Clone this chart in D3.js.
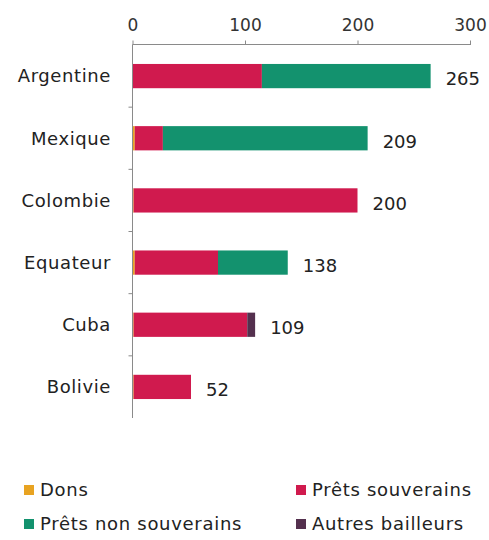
<!DOCTYPE html>
<html><head><meta charset="utf-8">
<script src="https://cdn.jsdelivr.net/npm/d3@7"></script>
<style>body{margin:0;background:#fff;} text{font-family:"DejaVu Sans",sans-serif;}</style>
</head><body><svg id="c" width="489" height="540"></svg>
<script>
const categories = ["Argentine","Mexique","Colombie","Equateur","Cuba","Bolivie"];
const seriesNames = ["Dons","Prêts souverains","Prêts non souverains","Autres bailleurs"];
const dons = [0, 2, 1, 2, 1, 1];
const pretsSouverains = [115, 25, 199, 74, 101, 51];
const pretsNonSouverains = [150, 182, 0, 62, 0, 0];
const autresBailleurs = [0, 0, 0, 0, 7, 0];
const totals = [265, 209, 200, 138, 109, 52];
const xTicks = [0, 100, 200, 300];
const colors = ["#e8a321", "#d01a4e", "#13926e", "#54304e"];

const svg = d3.select("#c");
const x = d3.scaleLinear().domain([0, 300]).range([132.5, 470]);
const y = d3.scaleBand().domain(categories).range([45, 418]).paddingInner(0.61).paddingOuter(0.305);

const rows = categories.map((c, i) => ({cat: c, "Dons": dons[i], "Prêts souverains": pretsSouverains[i],
  "Prêts non souverains": pretsNonSouverains[i], "Autres bailleurs": autresBailleurs[i]}));
const stacked = d3.stack().keys(seriesNames)(rows);

stacked.forEach((s, si) => {
  svg.append("g").selectAll("rect").data(s).join("rect")
    .attr("x", d => x(d[0])).attr("width", d => Math.max(0, x(d[1]) - x(d[0])))
    .attr("y", d => y(d.data.cat)).attr("height", y.bandwidth())
    .attr("fill", colors[si]);
});

// x axis on top
const xa = svg.append("g").attr("transform", "translate(0,44.5)")
  .call(d3.axisTop(x).tickValues(xTicks).tickSize(4).tickPadding(10));
xa.selectAll("text").attr("font-size", 17).attr("fill", "#333").attr("font-family", "DejaVu Sans");
xa.select(".domain").attr("stroke", "#8a8a8a").attr("d", "M" + x(0) + ",0H" + (x(300)+1));
xa.selectAll(".tick line").attr("stroke", "#8a8a8a");

// y axis
const ya = svg.append("g").attr("transform", "translate(132.5,0)");
ya.append("line").attr("x1", 0).attr("x2", 0).attr("y1", 44.5).attr("y2", 418).attr("stroke", "#8a8a8a");
const step = y.step();
categories.slice(0, -1).forEach((c, i) => {
  const yy = y(c) + y.bandwidth() + (step - y.bandwidth()) / 2;
  ya.append("line").attr("x1", -4).attr("x2", 0).attr("y1", yy).attr("y2", yy).attr("stroke", "#8a8a8a");
});
svg.append("g").selectAll("text").data(categories).join("text")
  .attr("x", 111).attr("y", d => y(d) + y.bandwidth() / 2).attr("dy", "0.35em")
  .attr("text-anchor", "end").attr("font-size", 18).attr("letter-spacing", 0.6).attr("fill", "#222").text(d => d);

// totals
svg.append("g").selectAll("text").data(categories).join("text")
  .attr("x", (d, i) => x(totals[i]) + 15).attr("y", d => y(d) + y.bandwidth() / 2 + 3).attr("dy", "0.35em")
  .attr("font-size", 18).attr("fill", "#222").text((d, i) => totals[i]);

// legend
const legPos = [[24, 490], [296, 490], [24, 524], [296, 524]];
seriesNames.forEach((n, i) => {
  const g = svg.append("g").attr("transform", `translate(${legPos[i][0]},${legPos[i][1]})`);
  g.append("rect").attr("x", 0).attr("y", -5).attr("width", 10).attr("height", 10).attr("fill", colors[i]);
  g.append("text").attr("x", 16).attr("y", 0).attr("dy", "0.35em").attr("font-size", 18)
    .attr("letter-spacing", 0.7).attr("fill", "#222").text(n);
});
</script></body></html>
